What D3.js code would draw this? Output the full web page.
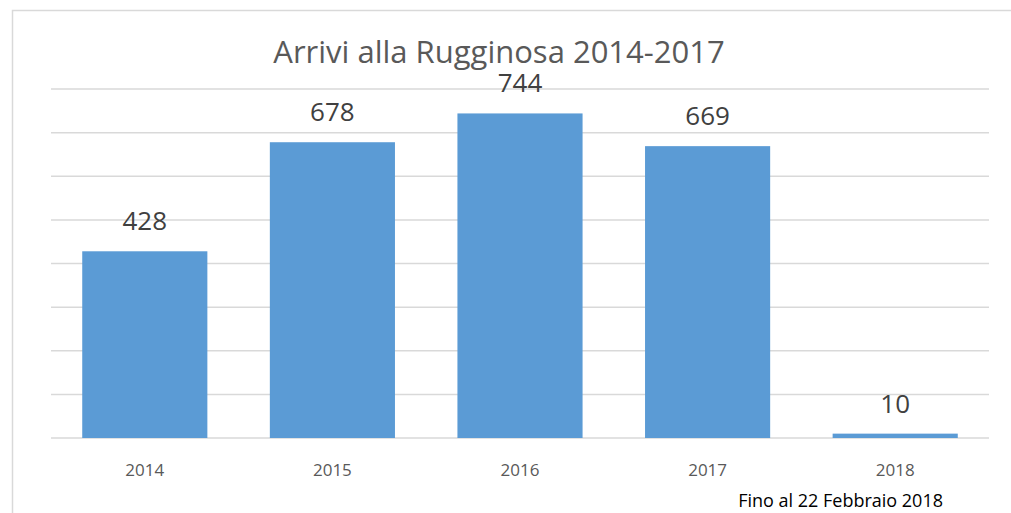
<!DOCTYPE html>
<html>
<head>
<meta charset="utf-8">
<script src="https://cdn.jsdelivr.net/npm/d3@7"></script>
<style>
  body { margin: 0; background: #fff; }
  text { font-family: "Open Sans", sans-serif; }
</style>
</head>
<body>
<div id="chart"></div>
<script>
// data
const years = ["2014", "2015", "2016", "2017", "2018"];
const arrivals = [428, 678, 744, 669, 10];
const gridTicks = [0, 100, 200, 300, 400, 500, 600, 700, 800];
const chartTitle = "Arrivi alla Rugginosa 2014-2017";
const footNote = "Fino al 22 Febbraio 2018";

const W = 1011, H = 513;

const svg = d3.select('#chart')
  .append('svg')
  .attr('width', W)
  .attr('height', H);

// chart frame (runs off the right / bottom edge)
svg.append('rect')
  .attr('x', 12.5)
  .attr('y', 10.5)
  .attr('width', 1100)
  .attr('height', 600)
  .attr('fill', 'none')
  .attr('stroke', '#d9d9d9')
  .attr('stroke-width', 1.5);

const x = d3.scaleBand()
  .domain(years)
  .range([51, 989])
  .paddingInner(0.333)
  .paddingOuter(0.1665);

const y = d3.scaleLinear()
  .domain([0, 800])
  .range([438, 89]);

// gridlines
svg.append('g')
  .selectAll('line')
  .data(gridTicks)
  .join('line')
  .attr('x1', 51)
  .attr('x2', 989)
  .attr('y1', d => y(d))
  .attr('y2', d => y(d))
  .attr('stroke', '#d9d9d9')
  .attr('stroke-width', 1.5);

// bars
svg.append('g')
  .selectAll('rect')
  .data(arrivals)
  .join('rect')
  .attr('x', (d, i) => x(years[i]))
  .attr('width', x.bandwidth())
  .attr('y', d => y(d))
  .attr('height', d => y(0) - y(d))
  .attr('fill', '#5b9bd5');

// value labels
svg.append('g')
  .selectAll('text')
  .data(arrivals)
  .join('text')
  .attr('x', (d, i) => x(years[i]) + x.bandwidth() / 2)
  .attr('y', d => y(d) - 21)
  .attr('text-anchor', 'middle')
  .attr('fill', '#404040')
  .style('font-size', '26px')
  .text(d => d);

// x axis labels
const xAxis = svg.append('g')
  .attr('transform', 'translate(0,' + y(0) + ')')
  .call(d3.axisBottom(x).tickSize(0).tickPadding(26));
xAxis.select('.domain').remove();
xAxis.selectAll('text')
  .attr('fill', '#595959')
  .style('font-size', '17px')
  .style('font-family', '"Open Sans", sans-serif');

// title
svg.append('text')
  .attr('x', 499)
  .attr('y', 63)
  .attr('text-anchor', 'middle')
  .attr('fill', '#595959')
  .style('font-size', '31px')
  .text(chartTitle);

// foot note
svg.append('text')
  .attr('x', 943)
  .attr('y', 507)
  .attr('text-anchor', 'end')
  .attr('fill', '#000')
  .style('font-size', '18px')
  .text(footNote);
</script>
</body>
</html>
